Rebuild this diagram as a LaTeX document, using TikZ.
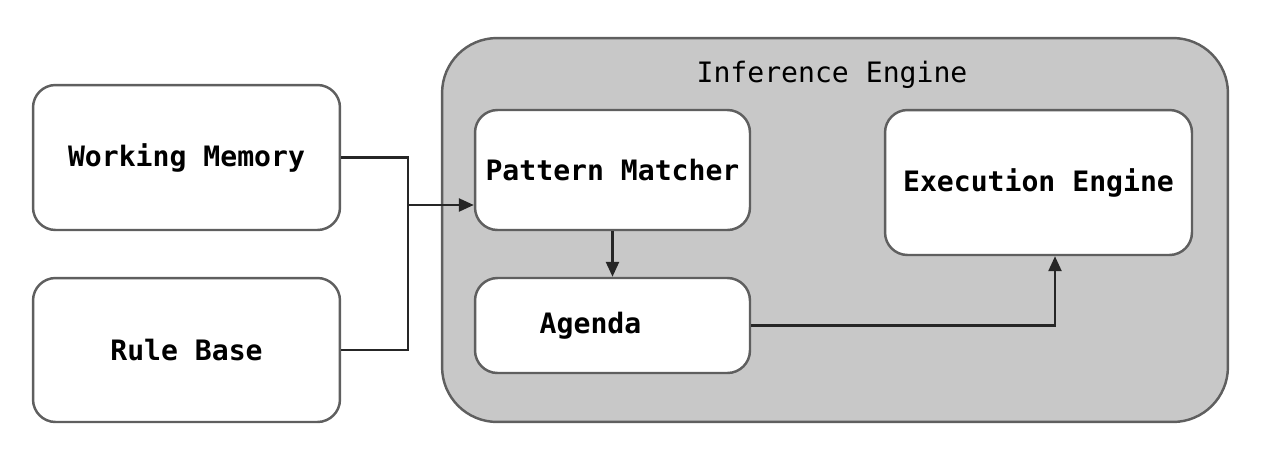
\documentclass[tikz,border=0pt]{standalone}
\usepackage{fontspec}
\setmonofont{DejaVu Sans Mono}
\usetikzlibrary{positioning,arrows.meta}

\definecolor{panelgray}{RGB}{200,200,200}
\definecolor{edgegray}{RGB}{95,95,95}

\tikzset{
  module/.style={draw=edgegray,line width=1.4pt,fill=white,rounded corners=0.45cm,
                 font=\ttfamily\bfseries\fontsize{16}{18}\selectfont},
  flow/.style={line width=1.4pt,draw=black!85},
  tip/.style={-{Triangle[length=3mm,width=2.6mm]}}
}

\begin{document}
\begin{tikzpicture}[x=0.02cm,y=-0.02cm]
    \useasboundingbox (0,0) rectangle (1268,454);
    % inference engine panel
    \node[draw=edgegray,line width=1.4pt,fill=panelgray,rounded corners=1.1cm,
          minimum width=15.72cm,minimum height=7.68cm] (engine) at (835,230) {};
    \node[font=\ttfamily\fontsize{16}{18}\selectfont] (title) at (832,75) {Inference Engine};

    \node[module,minimum width=6.14cm,minimum height=2.9cm] (memory) at (186.5,157.5) {Working Memory};
    \node[module,minimum width=6.14cm,minimum height=2.88cm] (rules) at (186.5,350) {Rule Base};
    \node[module,minimum width=5.5cm,minimum height=2.4cm] (matcher) at (612.5,170) {Pattern Matcher};
    \node[module,minimum width=5.5cm,minimum height=1.9cm] (agenda) at (612.5,325.5) {\hspace*{-0.88cm}Agenda};
    \node[module,minimum width=6.14cm,minimum height=2.9cm] (executor) at (1038.5,182.5) {Execution Engine};

    \coordinate (join) at (408,205);
    \draw[flow] (memory.east) -| (join) |- (rules.east);
    \draw[flow,tip] (join) -- (join -| matcher.west);
    \draw[flow,tip] (matcher.south) -- (agenda.north);
    \draw[flow,tip] (agenda.east) -| ([xshift=0.33cm]executor.south);
  \end{tikzpicture}
\end{document}
